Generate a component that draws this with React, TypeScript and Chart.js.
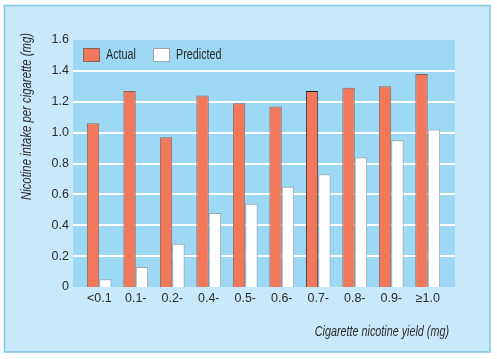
import React, { useEffect, useRef } from 'react';
import { Chart, registerables } from 'chart.js';

Chart.register(...registerables);

const categories = ['<0.1', '0.1-', '0.2-', '0.4-', '0.5-', '0.6-', '0.7-', '0.8-', '0.9-', '\u22651.0'];
const actual = [1.06, 1.27, 0.97, 1.24, 1.19, 1.17, 1.27, 1.29, 1.3, 1.38];
const predicted = [0.05, 0.13, 0.28, 0.48, 0.54, 0.65, 0.73, 0.84, 0.95, 1.02];
const seriesNames = ['Actual', 'Predicted'];
const yTitle = 'Nicotine intake per cigarette (mg)';
const xTitle = 'Cigarette nicotine yield (mg)';

const FONT = '"Liberation Sans", Arial, sans-serif';
const ACTUAL_COLOR = '#f2785c';
const ACTUAL_BORDER = '#8a6458';
const PRED_COLOR = '#ffffff';
const PRED_BORDER = '#a3a3a3';
const PLOT_BG = '#9dd8f5';
const PANEL_BG = '#c8e9f9';
const PANEL_BORDER = '#82c6e4';
const TEXT = '#2b2b2b';

function narrowText(ctx: any, text: string, x: number, y: number, sx: number, align: string) {
  ctx.save();
  ctx.translate(x, y);
  ctx.scale(sx, 1);
  ctx.textAlign = align;
  ctx.fillText(text, 0, 0);
  ctx.restore();
}

const decorPlugin = {
  id: 'decor',
  beforeDraw(chart: any) {
    const { ctx, chartArea, scales } = chart;
    ctx.save();
    ctx.fillStyle = '#ffffff';
    ctx.fillRect(0, 0, chart.width, chart.height);
    ctx.fillStyle = PANEL_BG;
    ctx.fillRect(4.5, 5.5, 485.5, 346.5);
    ctx.strokeStyle = PANEL_BORDER;
    ctx.lineWidth = 1.5;
    ctx.strokeRect(4.5, 5.5, 485.5, 346.5);
    const left = chartArea.left - 8;
    const right = chartArea.right + 9;
    ctx.fillStyle = PLOT_BG;
    ctx.fillRect(left, chartArea.top, right - left, chartArea.bottom - chartArea.top);
    ctx.strokeStyle = '#ffffff';
    ctx.lineWidth = 2;
    const y = scales.y;
    for (let v = 0.2; v < 1.55; v += 0.2) {
      const py = Math.round(y.getPixelForValue(v));
      ctx.beginPath();
      ctx.moveTo(left, py);
      ctx.lineTo(right, py);
      ctx.stroke();
    }
    ctx.restore();
  },
  afterDraw(chart: any) {
    const { ctx, chartArea } = chart;
    ctx.save();
    // legend
    const bx = chartArea.left + 2;
    const by = chartArea.top + 8;
    const items = chart.data.datasets.map((d: any) => ({
      label: d.label,
      fill: d.backgroundColor,
      stroke: Array.isArray(d.borderColor) ? d.borderColor[0] : d.borderColor,
    }));
    const xs = [bx, bx + 70];
    ctx.font = `14px ${FONT}`;
    ctx.textBaseline = 'middle';
    items.forEach((it: any, i: number) => {
      ctx.fillStyle = it.fill;
      ctx.fillRect(xs[i] + 0.5, by + 0.5, 16, 13);
      ctx.strokeStyle = it.stroke;
      ctx.lineWidth = 1;
      ctx.strokeRect(xs[i] + 0.5, by + 0.5, 16, 13);
      ctx.fillStyle = TEXT;
      narrowText(ctx, it.label, xs[i] + 23, by + 7.5, 0.77, 'left');
    });
    // titles
    ctx.font = `italic 14px ${FONT}`;
    ctx.fillStyle = TEXT;
    ctx.textBaseline = 'middle';
    narrowText(ctx, xTitle, chartArea.right + 3, 332, 0.77, 'right');
    ctx.save();
    ctx.translate(27, 33);
    ctx.rotate(-Math.PI / 2);
    narrowText(ctx, yTitle, 0, 0, 0.81, 'right');
    ctx.restore();
    ctx.restore();
  },
};

export default function App() {
  const canvasRef = useRef<HTMLCanvasElement | null>(null);

  useEffect(() => {
    document.body.style.margin = '0';
    const canvas = canvasRef.current;
    if (!canvas) return;
    const chart = new Chart(canvas, {
      type: 'bar',
      data: {
        labels: categories,
        datasets: [
          {
            label: seriesNames[0],
            data: actual,
            backgroundColor: ACTUAL_COLOR,
            borderColor: actual.map((_, i) => (i === 6 ? '#222222' : ACTUAL_BORDER)),
            borderWidth: 1,
            borderSkipped: 'bottom',
          },
          {
            label: seriesNames[1],
            data: predicted,
            backgroundColor: PRED_COLOR,
            borderColor: PRED_BORDER,
            borderWidth: 1,
            borderSkipped: 'bottom',
          },
        ],
      },
      options: {
        responsive: false,
        animation: false,
        layout: { padding: { left: 0, right: 51, top: 40, bottom: 0 } },
        datasets: { bar: { categoryPercentage: 0.68, barPercentage: 1.0 } },
        plugins: {
          legend: { display: false },
          tooltip: { enabled: false },
        },
        scales: {
          x: {
            grid: { display: false, drawTicks: false },
            border: { display: false },
            ticks: {
              padding: 4,
              color: TEXT,
              font: { family: FONT, size: 12.5 },
              maxRotation: 0,
              autoSkip: false,
            },
            afterFit: (s: any) => {
              s.height = 72;
            },
          },
          y: {
            min: 0,
            max: 1.6,
            grid: { display: false, drawTicks: false },
            border: { display: false },
            ticks: {
              stepSize: 0.2,
              padding: 12,
              color: TEXT,
              font: { family: FONT, size: 12.5 },
              callback: (v: any) => (Number(v) === 0 ? '0' : Number(v).toFixed(1)),
            },
            afterFit: (s: any) => {
              s.width = 81;
            },
          },
        },
      },
      plugins: [decorPlugin],
    });
    return () => chart.destroy();
  }, []);

  return (
    <div style={{ position: 'absolute', left: 0, top: 0, width: 497, height: 359 }}>
      <canvas ref={canvasRef} width={497} height={359} />
    </div>
  );
}
